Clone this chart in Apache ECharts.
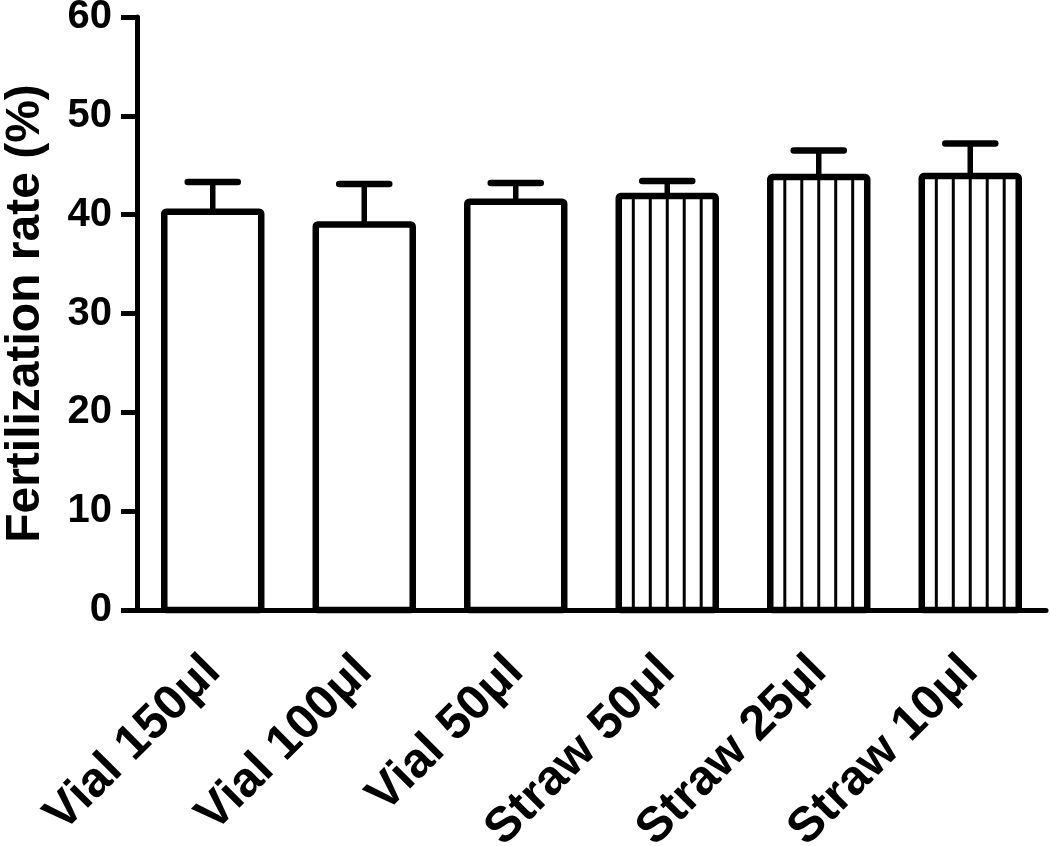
<!DOCTYPE html>
<html>
<head>
<meta charset="utf-8">
<script src="https://cdn.jsdelivr.net/npm/echarts@6/dist/echarts.min.js"></script>
<style>
html,body{margin:0;padding:0;background:#fff;}
#chart{width:1050px;height:846px;}
</style>
</head>
<body>
<div id="chart"></div>
<script>
var categories = ['Vial 150\u03bcl', 'Vial 100\u03bcl', 'Vial 50\u03bcl', 'Straw 50\u03bcl', 'Straw 25\u03bcl', 'Straw 10\u03bcl'];
var means = [40.3, 39.0, 41.3, 41.9, 43.8, 43.9];
var errUpper = [3.0, 4.1, 1.9, 1.5, 2.7, 3.3];
var hatched = [0, 0, 0, 1, 1, 1];
var yTicks = [0, 10, 20, 30, 40, 50, 60];

var data = categories.map(function (c, i) {
  return [i, means[i], errUpper[i], hatched[i]];
});

var chart = echarts.init(document.getElementById('chart'));
var FONT = '"Liberation Sans", Arial, sans-serif';

chart.setOption({
  animation: false,
  backgroundColor: '#fff',
  grid: { left: 137, right: 4, top: 17, bottom: 236, containLabel: false, outerBoundsMode: 'none' },
  xAxis: {
    type: 'category',
    data: categories,
    axisLine: { lineStyle: { color: '#000', width: 5 } },
    axisTick: { alignWithLabel: true, length: 18, lineStyle: { color: '#000', width: 5 } },
    axisLabel: {
      rotate: 45, margin: 54, interval: 0,
      color: '#000', fontFamily: FONT, fontWeight: 'bold', fontSize: 49
    }
  },
  yAxis: {
    type: 'value',
    min: yTicks[0], max: yTicks[yTicks.length - 1], interval: 10,
    name: 'Fertilization rate (%)',
    nameLocation: 'middle',
    nameGap: 87,
    nameRotate: 90,
    nameTextStyle: { color: '#000', fontFamily: FONT, fontWeight: 'bold', fontSize: 48 },
    splitLine: { show: false },
    axisLine: { show: true, lineStyle: { color: '#000', width: 5 } },
    axisTick: { show: true, length: 16, lineStyle: { color: '#000', width: 5 } },
    axisLabel: { margin: 25, color: '#000', fontFamily: FONT, fontWeight: 'bold', fontSize: 40 }
  },
  series: [{
    type: 'custom',
    data: data,
    encode: { x: 0, y: 1 },
    clip: false,
    renderItem: function (params, api) {
      var idx = api.value(0);
      var mean = api.value(1);
      var err = api.value(2);
      var hat = api.value(3);
      var top = api.coord([idx, mean]);
      var base = api.coord([idx, 0]);
      var errTop = api.coord([idx, mean + err]);
      var band = api.size([1, 0])[0];
      var w = band * 0.64;
      var cx = top[0];
      var children = [];
      children.push({
        type: 'line',
        shape: { x1: cx, y1: top[1], x2: cx, y2: errTop[1] },
        style: { stroke: '#000', lineWidth: 5.5 }
      });
      children.push({
        type: 'line',
        shape: { x1: cx - 25, y1: errTop[1], x2: cx + 25, y2: errTop[1] },
        style: { stroke: '#000', lineWidth: 6.5, lineCap: 'round' }
      });
      children.push({
        type: 'rect',
        shape: { x: cx - w / 2, y: top[1], width: w, height: base[1] - top[1], r: 2 },
        style: { fill: '#fff', stroke: '#000', lineWidth: 6.5, lineJoin: 'round' }
      });
      if (hat) {
        for (var k = -2; k <= 2; k++) {
          var lx = cx + k * w * 0.175;
          children.push({
            type: 'line',
            shape: { x1: lx, y1: top[1], x2: lx, y2: base[1] },
            style: { stroke: '#000', lineWidth: 3 }
          });
        }
      }
      return { type: 'group', children: children };
    }
  }]
});
</script>
</body>
</html>
